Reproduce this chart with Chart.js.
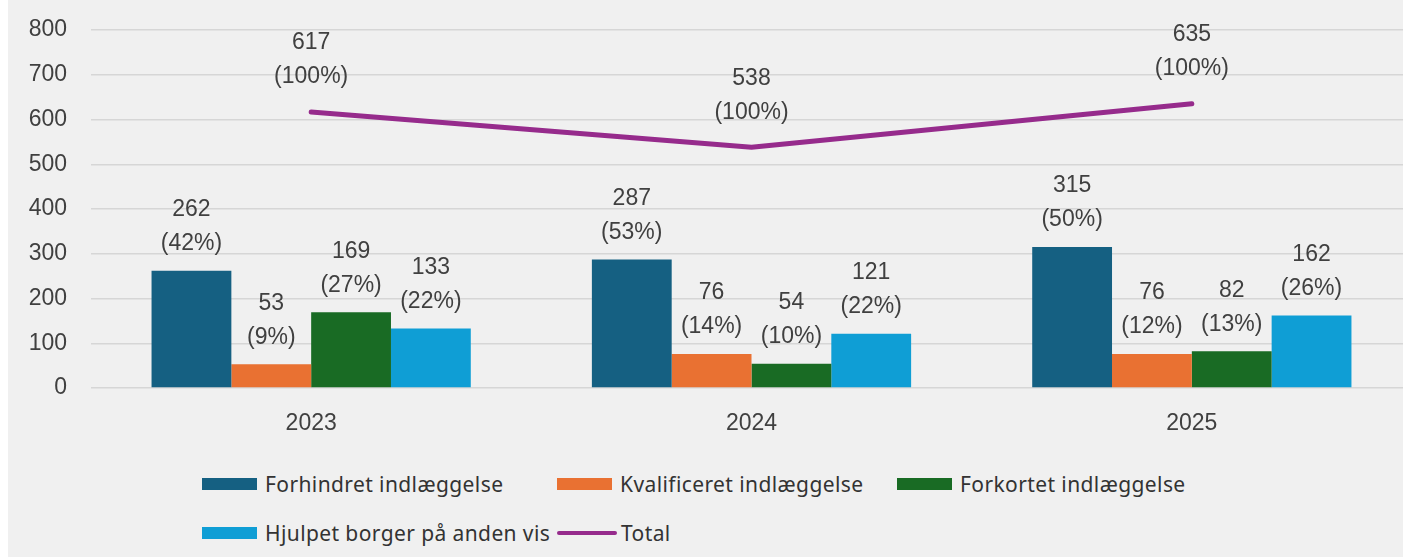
<!DOCTYPE html>
<html>
<head>
<meta charset="utf-8">
<script src="https://cdn.jsdelivr.net/npm/chart.js@4/dist/chart.umd.min.js"></script>
<style>
  html, body { margin: 0; padding: 0; background: #ffffff; overflow: hidden; }
  #frame { position: absolute; left: 8px; top: 0; width: 1395px; height: 557px; background: #f0f0f0; }
  #chart { position: absolute; left: 0; top: 0; }
  #legend {
    position: absolute; left: 202px; top: 459px;
    display: grid; grid-template-columns: 355px 340px auto; grid-auto-rows: 49px;
    font-family: "Noto Sans", sans-serif; font-size: 21px; letter-spacing: 0.4px; color: #333333;
  }
  .item { display: flex; align-items: center; white-space: nowrap; }
  .box { width: 55px; height: 12px; margin-right: 8px; }
  .line { width: 60px; height: 4px; border-radius: 2px; margin-right: 4px; }
</style>
</head>
<body>
<div id="frame"></div>
<canvas id="chart" width="1412" height="450"></canvas>
<div id="legend"></div>
<script>
// values
const years = ["2023", "2024", "2025"];
const forhindret = [262, 287, 315];
const kvalificeret = [53, 76, 76];
const forkortet = [169, 54, 82];
const hjulpet = [133, 121, 162];
const total = [617, 538, 635];

const forhindretPct = [42, 53, 50];
const kvalificeretPct = [9, 14, 12];
const forkortetPct = [27, 10, 13];
const hjulpetPct = [22, 22, 26];
const totalPct = [100, 100, 100];

const yMax = 800;
const yStep = 100;

const textColor = "#404040";
const numberFont = '23px "Liberation Sans", Arial, sans-serif';

// two-line labels: value and (pct%) above each bar / point
const valueLabels = {
    id: "valueLabels",
    afterDatasetsDraw(chart) {
        const ctx = chart.ctx;
        ctx.save();
        ctx.font = numberFont;
        ctx.fillStyle = textColor;
        ctx.textAlign = "center";
        ctx.textBaseline = "middle";
        chart.data.datasets.forEach((ds, i) => {
            const meta = chart.getDatasetMeta(i);
            const isLine = ds.type === "line";
            const near = isLine ? 35 : 27;
            const far = isLine ? 69 : 61;
            meta.data.forEach((el, j) => {
                ctx.fillText(String(ds.data[j]), el.x, el.y - far);
                ctx.fillText("(" + ds.pct[j] + "%)", el.x, el.y - near);
            });
        });
        ctx.restore();
    },
};

const barSet = (label, data, pct, color) => ({
    type: "bar",
    label: label,
    data: data,
    pct: pct,
    backgroundColor: color,
    borderWidth: 0,
    categoryPercentage: 0.725,
    barPercentage: 1,
    order: 1,
});

const datasets = [
    barSet("Forhindret indlæggelse", forhindret, forhindretPct, "#156082"),
    barSet("Kvalificeret indlæggelse", kvalificeret, kvalificeretPct, "#E97132"),
    barSet("Forkortet indlæggelse", forkortet, forkortetPct, "#196B24"),
    barSet("Hjulpet borger på anden vis", hjulpet, hjulpetPct, "#0F9ED5"),
    {
        type: "line",
        label: "Total",
        data: total,
        pct: totalPct,
        borderColor: "#962B8C",
        backgroundColor: "#962B8C",
        borderWidth: 5,
        borderCapStyle: "round",
        borderJoinStyle: "round",
        pointRadius: 0,
        tension: 0,
        order: 0,
    },
];

const chart = new Chart(document.getElementById("chart").getContext("2d"), {
    data: { labels: years, datasets: datasets },
    options: {
        responsive: false,
        animation: false,
        devicePixelRatio: 1,
        layout: { padding: { top: 30, left: 0, right: 0, bottom: 0 } },
        plugins: { legend: { display: false }, tooltip: { enabled: false } },
        scales: {
            x: {
                grid: { display: false, drawTicks: false },
                border: { display: false },
                ticks: {
                    padding: 22,
                    color: textColor,
                    font: { family: '"Liberation Sans", Arial, sans-serif', size: 23 },
                },
                afterFit(scale) { scale.height = 62; },
            },
            y: {
                min: 0,
                max: yMax,
                grid: { color: "#d6d6d6", lineWidth: 1.5, drawTicks: false },
                border: { display: false },
                ticks: {
                    stepSize: yStep,
                    padding: 24,
                    color: textColor,
                    font: { family: '"Liberation Sans", Arial, sans-serif', size: 23 },
                },
                afterFit(scale) {
                    scale.width = 91;
                    // tick padding is meant for the gap to the left only
                    scale.paddingTop = 0;
                    scale.paddingBottom = 0;
                },
            },
        },
    },
    plugins: [valueLabels],
});

// legend built from the datasets
const legend = document.getElementById("legend");
chart.data.datasets.forEach((ds) => {
    const item = document.createElement("div");
    item.className = "item";
    const mark = document.createElement("span");
    mark.className = ds.type === "line" ? "line" : "box";
    mark.style.background = ds.type === "line" ? ds.borderColor : ds.backgroundColor;
    const text = document.createElement("span");
    text.textContent = ds.label;
    item.appendChild(mark);
    item.appendChild(text);
    legend.appendChild(item);
});
</script>
</body>
</html>
